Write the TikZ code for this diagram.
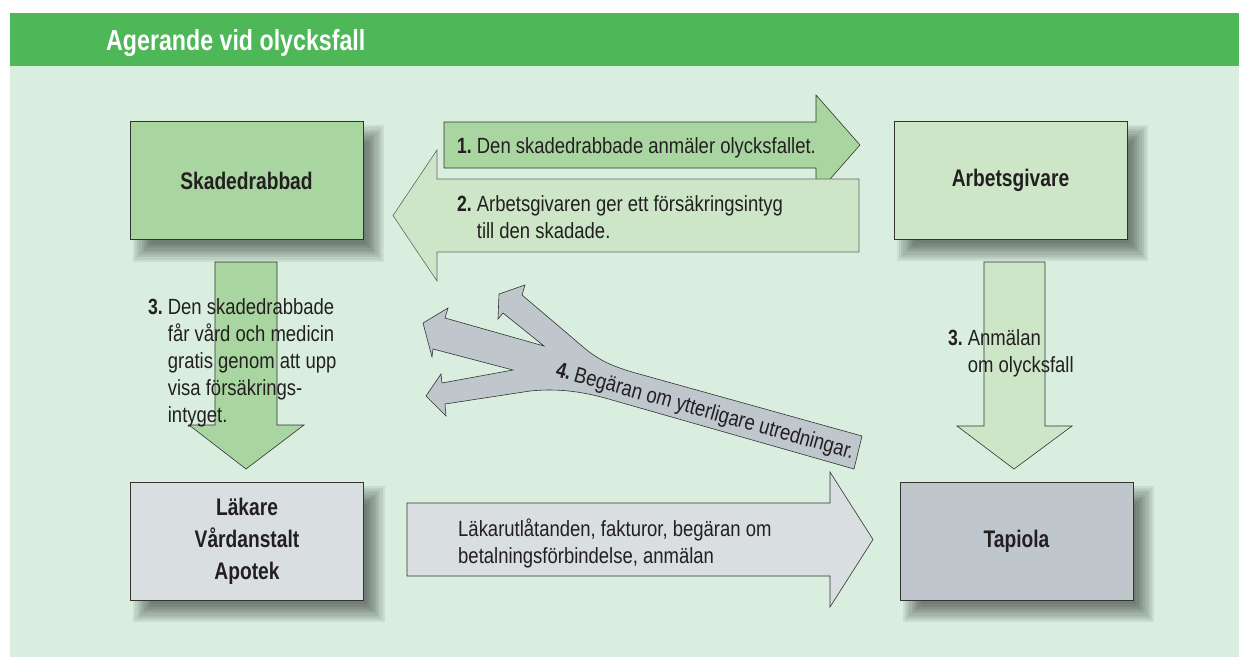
\documentclass[tikz,border=0pt]{standalone}
\usepackage{fontspec}
\setmainfont{Liberation Sans}[FakeStretch=0.84, BoldFeatures={FakeStretch=0.8}]
\usetikzlibrary{calc}
\pgfdeclarelayer{bglayer}
\pgfdeclarelayer{shadowlayer}
\pgfsetlayers{bglayer,shadowlayer,main}
\definecolor{hdgreen}{HTML}{4EB757}
\definecolor{bgc}{HTML}{D9EEDF}
\definecolor{cgA}{HTML}{A9D6A0}
\definecolor{cgB}{HTML}{CCE6C7}
\definecolor{cgrA}{HTML}{D9DEE1}
\definecolor{cgrB}{HTML}{BFC7CD}
\definecolor{ink}{HTML}{231F20}
\definecolor{boxline}{HTML}{333333}
\definecolor{arrline}{HTML}{333333}
\tikzset{
  boxnode/.style={draw=boxline, line width=0.8pt, minimum width=233pt, minimum height=118pt,
    inner sep=0pt, font=\fontsize{24}{32}\selectfont\bfseries, text=ink, align=center},
  arrowshape/.style={draw=arrline, line width=0.6pt},
  lbl/.style={font=\fontsize{22}{27}\selectfont, text=ink, inner sep=0pt, anchor=base west},
}
\begin{document}
\begin{tikzpicture}[x=1pt,y=-1pt]
\useasboundingbox (0,0) rectangle (1239,657);
\begin{pgfonlayer}{bglayer}
  \fill[white] (0,0) rectangle (1239,657);
  \fill[bgc] (9.5,12.5) rectangle (1239,657);
  \fill[hdgreen] (9.5,12.5) rectangle (1239,66);
\end{pgfonlayer}
\node[anchor=base west, text=white, font=\fontsize{29}{34}\selectfont\bfseries, inner sep=0pt] (title) at (106,50) {Agerande vid olycksfall};

% boxes
\node[boxnode, fill=cgA] (sk) at (246.5,180.5) {Skadedrabbad};
\node[boxnode, fill=cgB] (ag) at (1010.5,180) {Arbetsgivare};
\node[boxnode, fill=cgrA] (la) at (247,541) {Läkare\\Vårdanstalt\\Apotek};
\node[boxnode, fill=cgrB] (ta) at (1016.5,541) {Tapiola};

% shadows
\begin{pgfonlayer}{shadowlayer}
\foreach \nm in {sk,ag,la,ta}{
  \foreach \i [evaluate=\i as \dd using -9+2.25*\i] in {0,...,8}{
    \fill[black, fill opacity=0.068] ($(\nm.north west)+(12+\dd,13+\dd)$) rectangle ($(\nm.south east)+(12-\dd,13-\dd)$);
  }
}
\end{pgfonlayer}

% arrow 1 (right)
\draw[arrowshape, fill=cgA] (444,122) -- (816,122) -- (816,95) -- (860,145) -- (816,195) -- (816,168) -- (444,168) -- cycle;
% arrow 2 (left)
\draw[arrowshape, fill=cgB, draw=black!60] (859,179) -- (437,179) -- (437,150) -- (393,215.5) -- (437,281) -- (437,252) -- (859,252) -- cycle;
\node[lbl] (t1) at (457,153) {\textbf{1.}\hskip5pt Den skadedrabbade anmäler olycksfallet.};
\node[lbl] (t2) at (457,211) {\begin{tabular}[t]{@{}l@{\hskip5pt}l@{}}\textbf{2.}&Arbetsgivaren ger ett försäkringsintyg\\&till den skadade.\end{tabular}};

% arrow 3 left (down)
\draw[arrowshape, fill=cgA] (215,262) -- (277,262) -- (277,425) -- (304,425) -- (246,469) -- (189,425) -- (215,425) -- cycle;
\node[lbl] (t3a) at (148,314) {\begin{tabular}[t]{@{}l@{\hskip5pt}l@{}}\textbf{3.}&Den skadedrabbade\\&får vård och medicin\\&gratis genom att upp\\&visa försäkrings-\\&intyget.\end{tabular}};

% arrow 3 right (down)
\draw[arrowshape, fill=cgB] (984,262) -- (1045,262) -- (1045,426) -- (1072,426) -- (1014,469) -- (957,426) -- (984,426) -- cycle;
\node[lbl] (t3b) at (948,345) {\begin{tabular}[t]{@{}l@{\hskip5pt}l@{}}\textbf{3.}&Anmälan\\&om olycksfall\end{tabular}};

% bottom arrow
\draw[arrowshape, fill=cgrA] (407,503) -- (830,503) -- (830,472) -- (873,539.5) -- (830,607) -- (830,576) -- (407,576) -- cycle;
\node[lbl] (t5) at (458,536) {\begin{tabular}[t]{@{}l@{}}Läkarutlåtanden, fakturor, begäran om\\betalningsförbindelse, anmälan\end{tabular}};

% arrow 4 (branching)
\draw[arrowshape, fill=cgrB] (862,436) -- (854,469) -- (612,400) .. controls (585,392) and (560,388) .. (530,391)
  -- (445,404) -- (446,416) -- (426,396) -- (441,374) -- (442,383) -- (513,370)
  -- (433,349) -- (432,357) -- (423,323) -- (448,308) -- (445,318) -- (544,346)
  -- (503,313) -- (498,319) -- (499,294) -- (525,285) -- (522,295) -- (582,346)
  .. controls (598,360) and (612,366) .. (632,372) -- cycle;
\node[font=\fontsize{22}{27}\selectfont, text=ink, inner sep=0pt, rotate=-15.6] (t4) at (705,412) {\textbf{4.}\hskip4pt Begäran om ytterligare utredningar.};
\end{tikzpicture}
\end{document}
